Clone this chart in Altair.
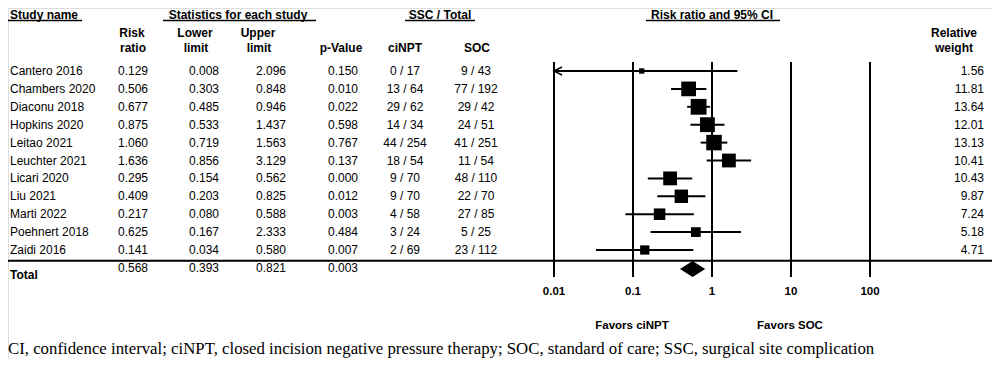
import altair as alt
import pandas as pd

studies = ["Cantero 2016", "Chambers 2020", "Diaconu 2018", "Hopkins 2020", "Leitao 2021",
           "Leuchter 2021", "Licari 2020", "Liu 2021", "Marti 2022", "Poehnert 2018", "Zaidi 2016"]
risk_ratio = [0.129, 0.506, 0.677, 0.875, 1.060, 1.636, 0.295, 0.409, 0.217, 0.625, 0.141]
lower = [0.008, 0.303, 0.485, 0.533, 0.719, 0.856, 0.154, 0.203, 0.080, 0.167, 0.034]
upper = [2.096, 0.848, 0.946, 1.437, 1.563, 3.129, 0.562, 0.825, 0.588, 2.333, 0.580]
p_value = [0.150, 0.010, 0.022, 0.598, 0.767, 0.137, 0.000, 0.012, 0.003, 0.484, 0.007]
cinpt_events = [0, 13, 29, 14, 44, 18, 9, 9, 4, 3, 2]
cinpt_total = [17, 64, 62, 34, 254, 54, 70, 70, 58, 24, 69]
soc_events = [9, 77, 29, 24, 41, 11, 48, 22, 27, 5, 23]
soc_total = [43, 192, 42, 51, 251, 54, 110, 70, 85, 25, 112]
rel_weight = [1.56, 11.81, 13.64, 12.01, 13.13, 10.41, 10.43, 9.87, 7.24, 5.18, 4.71]

total_rr = 0.568
total_lower = 0.393
total_upper = 0.821
total_p = 0.003

axis_ticks = [0.01, 0.1, 1, 10, 100]
FOOTNOTE = ("CI, confidence interval; ciNPT, closed incision negative pressure therapy; "
            "SOC, standard of care; SSC, surgical site complication")

X_MIN, X_MAX = 0.01, 100

df = pd.DataFrame({
    "row": list(range(len(studies))),
    "study": studies,
    "rr": risk_ratio,
    "lo": lower,
    "hi": upper,
    "p": p_value,
    "w": rel_weight,
})
df["lo_c"] = df["lo"].clip(lower=X_MIN)
df["hi_c"] = df["hi"].clip(upper=X_MAX)
df["ci"] = [f"{a} / {b}" for a, b in zip(cinpt_events, cinpt_total)]
df["soc"] = [f"{a} / {b}" for a, b in zip(soc_events, soc_total)]
df["w_s"] = [f"{v:.2f}" for v in rel_weight]

FONT = "Liberation Sans"
FS = 12

xs = alt.Scale(type="log", domain=[X_MIN, X_MAX], range=[546, 862], nice=False)
ys = alt.Scale(domain=[0, 10], range=[63, 242], nice=False, zero=False)

one = pd.DataFrame({"a": [0]})
layers = []


def txt(label, x, y, align="left", bold=False, size=FS, font=FONT, baseline="middle"):
    return alt.Chart(one).mark_text(
        text=label, align=align, baseline=baseline, font=font, fontSize=size,
        fontWeight="bold" if bold else "normal", color="black"
    ).encode(x=alt.value(x), y=alt.value(y))


def hline(x1, x2, y, w=1.5):
    return alt.Chart(one).mark_rule(color="black", strokeWidth=w).encode(
        x=alt.value(x1), x2=alt.value(x2), y=alt.value(y))


# Header titles with underlines
TY = 10.5
UY = 12.5
layers += [
    txt("Study name", 2, TY, bold=True, baseline="alphabetic"),
    hline(-5, 74, UY),
    txt("Statistics for each study", 230, TY, align="center", bold=True, baseline="alphabetic"),
    hline(155, 308, UY),
    txt("SSC / Total", 432, TY, align="center", bold=True, baseline="alphabetic"),
    hline(397, 467, UY),
    txt("Risk ratio and 95% CI", 704, TY, align="center", bold=True, baseline="alphabetic"),
    hline(638, 772, UY),
]
# Column headers
layers += [
    txt("Risk", 124, 25, align="center", bold=True), txt("ratio", 125, 40, align="center", bold=True),
    txt("Lower", 187, 25, align="center", bold=True), txt("limit", 188, 40, align="center", bold=True),
    txt("Upper", 250, 25, align="center", bold=True), txt("limit", 251, 40, align="center", bold=True),
    txt("p-Value", 333, 40, align="center", bold=True),
    txt("ciNPT", 397, 40, align="center", bold=True),
    txt("SOC", 469, 40, align="center", bold=True),
    txt("Relative", 946, 25, align="center", bold=True),
    txt("weight", 946, 40, align="center", bold=True),
]

base = alt.Chart(df)
Y = alt.Y("row:Q", scale=ys, axis=None)


def col(field, x, align, fmt=None):
    t = alt.Text(field, format=fmt) if fmt else alt.Text(field)
    return base.mark_text(align=align, baseline="middle", font=FONT, fontSize=FS, color="black").encode(
        x=alt.value(x), y=Y, text=t)


layers += [
    col("study:N", 2, "left"),
    col("rr:Q", 140, "right", ".3f"),
    col("lo:Q", 211, "right", ".3f"),
    col("hi:Q", 278, "right", ".3f"),
    col("p:Q", 350, "right", ".3f"),
    col("ci:N", 397, "center"),
    col("soc:N", 468, "center"),
    col("w_s:N", 976, "right"),
]

# Total row
layers += [
    txt("Total", 2, 267, bold=True),
    txt(f"{total_rr:.3f}", 140, 260, align="right"),
    txt(f"{total_lower:.3f}", 211, 260, align="right"),
    txt(f"{total_upper:.3f}", 278, 260, align="right"),
    txt(f"{total_p:.3f}", 350, 260, align="right"),
]

# separator line
layers.append(hline(-5, 984, 252.7, w=2))

# vertical reference lines at ticks
tick_df = pd.DataFrame({"t": axis_ticks, "label": [f"{t:g}" for t in axis_ticks]})
layers.append(
    alt.Chart(tick_df).mark_rule(color="black", strokeWidth=2).encode(
        x=alt.X("t:Q", scale=xs, axis=None), y=alt.value(54), y2=alt.value(269))
)
layers.append(
    alt.Chart(tick_df).mark_text(font=FONT, fontSize=11.5, fontWeight="bold", baseline="middle",
                                 align="center", color="black").encode(
        x=alt.X("t:Q", scale=xs, axis=None), y=alt.value(284), text="label:N")
)

# CI lines
layers.append(
    base.mark_rule(color="black", strokeWidth=2).encode(
        x=alt.X("lo_c:Q", scale=xs, axis=None), x2="hi_c:Q", y=Y)
)
# arrow for truncated lower bounds
arrow_df = df[df["lo"] < X_MIN]
layers.append(
    alt.Chart(arrow_df).mark_point(shape="M 1.6 -0.8 L 0 0 L 1.6 0.8", filled=False, size=100,
                                   stroke="black", strokeWidth=1.5, opacity=1).encode(
        x=alt.X("lo_c:Q", scale=xs, axis=None), y=Y)
)
# squares
layers.append(
    base.mark_square(color="black", opacity=1, filled=True).encode(
        x=alt.X("rr:Q", scale=xs, axis=None), y=Y,
        size=alt.Size("w:Q", scale=alt.Scale(domain=[0, 13.64], range=[0, 250], zero=True), legend=None))
)

# summary diamond
c = 11.06
h = 0.45
dia = pd.DataFrame({
    "x": [total_lower, total_rr, total_upper],
    "yt": [c, c - h, c],
    "yb": [c, c + h, c],
})
layers.append(
    alt.Chart(dia).mark_area(color="black", opacity=1, orient="vertical").encode(
        x=alt.X("x:Q", scale=xs, axis=None),
        y=alt.Y("yt:Q", scale=ys, axis=None), y2="yb:Q")
)

# favors labels and footnote
layers += [
    txt("Favors ciNPT", 624, 318, align="center", bold=True, size=11.5),
    txt("Favors SOC", 782, 318, align="center", bold=True, size=11.5),
    txt(FOOTNOTE, 0, 346, size=16.8, font="Liberation Serif", baseline="alphabetic"),
]

chart = alt.layer(*layers).properties(
    width=984, height=351, autosize=alt.AutoSizeParams(type="none"), padding=0
).configure_view(stroke=None).configure(background="white")

chart.save("out.html", embed_options={"renderer": "svg", "actions": False})
